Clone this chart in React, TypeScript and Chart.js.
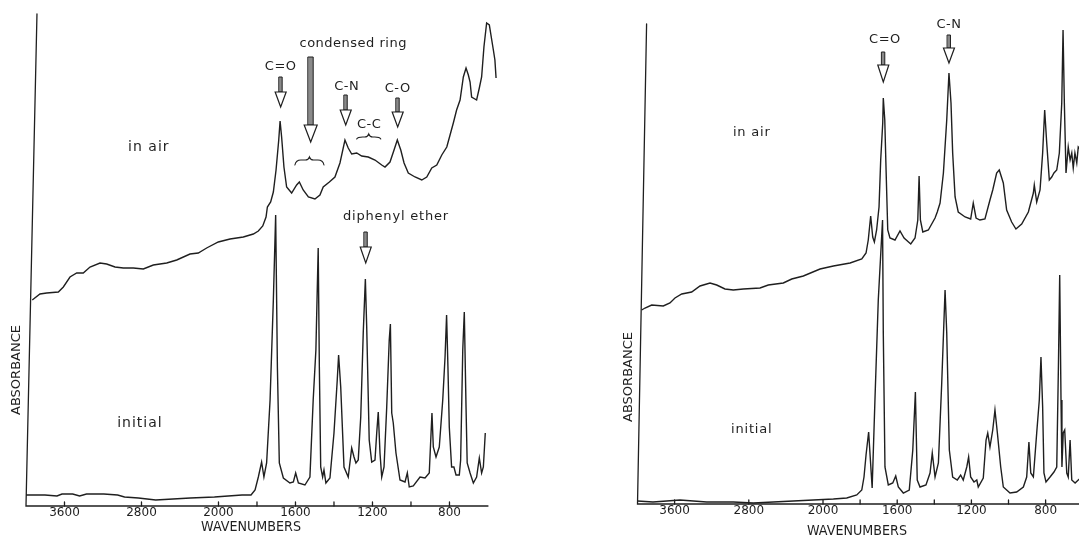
import React, { useEffect, useRef } from "react";
import { Chart, registerables } from "chart.js";

Chart.register(...registerables);

const INK = "#1f1f1f";
const FONT = '"DejaVu Sans", "Liberation Sans", sans-serif';

// Wavenumber axis: 4000-2000 cm-1 is compressed 2:1 relative to 2000-600 cm-1
const toU = (w: number) => (w >= 2000 ? (4000 - w) / 2 : 3000 - w);

const TICK_WAVENUMBERS = [3600, 2800, 2000, 1800, 1600, 1400, 1200, 1000, 800];
const TICK_LABELS = ["3600", "2800", "2000", "", "1600", "", "1200", "", "800"];

// ---------- Left panel ----------
const LEFT_AIR_WN = [3935, 3855, 3785, 3664, 3612, 3543, 3473, 3405, 3335, 3231, 3162, 3075, 2989, 2885, 2781, 2677, 2538, 2434, 2296, 2210, 2123, 2002, 1940, 1871, 1819, 1793, 1770, 1753, 1746, 1729, 1715, 1701, 1687, 1680, 1672, 1660, 1646, 1620, 1594, 1580, 1560, 1533, 1499, 1473, 1456, 1424, 1395, 1369, 1343, 1326, 1308, 1282, 1256, 1222, 1187, 1152, 1135, 1109, 1088, 1071, 1053, 1036, 1014, 979, 944, 918, 892, 866, 840, 814, 797, 780, 763, 745, 728, 714, 702, 693, 685, 659, 645, 633, 621, 607, 593, 572, 564, 558];
const LEFT_AIR_ABS = [206, 212, 213, 214, 219, 229, 233, 233, 239, 243, 242, 239, 238, 238, 237, 241, 243, 246, 252, 253, 258, 264, 267, 269, 272, 275, 280, 289, 299, 304, 314, 336, 366, 385, 369, 339, 319, 313, 321, 324, 316, 309, 307, 311, 319, 324, 329, 343, 366, 358, 352, 353, 350, 349, 346, 341, 339, 344, 356, 366, 356, 343, 333, 329, 326, 329, 338, 341, 351, 359, 371, 383, 396, 406, 429, 438, 431, 424, 409, 406, 418, 429, 459, 483, 481, 456, 446, 428];

const LEFT_INIT_WN = [4000, 3803, 3678, 3626, 3515, 3443, 3371, 3192, 3048, 2976, 2832, 2652, 2473, 2293, 2042, 1878, 1831, 1810, 1793, 1776, 1764, 1750, 1732, 1715, 1703, 1694, 1684, 1663, 1629, 1611, 1599, 1585, 1551, 1525, 1508, 1494, 1482, 1476, 1469, 1459, 1452, 1442, 1421, 1400, 1383, 1376, 1365, 1348, 1326, 1308, 1296, 1286, 1274, 1261, 1248, 1237, 1230, 1217, 1204, 1187, 1178, 1170, 1161, 1152, 1140, 1126, 1113, 1107, 1100, 1092, 1078, 1057, 1031, 1019, 1009, 988, 953, 927, 905, 891, 884, 870, 853, 835, 823, 815, 808, 801, 789, 777, 766, 749, 742, 731, 723, 714, 708, 693, 676, 659, 645, 633, 624, 614];
const LEFT_INIT_ABS = [11, 11, 10, 12, 12, 10, 12, 12, 11, 9, 8, 6, 7, 8, 9, 11, 11, 16, 29, 44, 29, 43, 106, 206, 291, 139, 43, 28, 23, 24, 33, 23, 21, 29, 106, 156, 258, 139, 39, 29, 36, 23, 28, 73, 126, 151, 119, 39, 29, 58, 49, 43, 46, 89, 173, 227, 179, 66, 44, 46, 73, 94, 53, 29, 39, 99, 166, 182, 93, 83, 53, 26, 24, 33, 19, 20, 29, 28, 33, 93, 59, 49, 59, 106, 149, 191, 139, 79, 39, 39, 31, 31, 46, 156, 194, 99, 43, 33, 23, 29, 48, 33, 39, 73];

// ---------- Right panel ----------
const RIGHT_AIR_WN = [3955, 3919, 3847, 3722, 3650, 3596, 3523, 3416, 3326, 3218, 3146, 3057, 2967, 2859, 2679, 2590, 2428, 2337, 2212, 2032, 1944, 1854, 1791, 1768, 1756, 1743, 1732, 1723, 1711, 1698, 1689, 1678, 1675, 1667, 1660, 1651, 1639, 1612, 1585, 1563, 1527, 1504, 1489, 1482, 1475, 1462, 1432, 1396, 1384, 1369, 1351, 1333, 1321, 1310, 1301, 1288, 1271, 1234, 1204, 1190, 1175, 1154, 1127, 1100, 1085, 1064, 1050, 1028, 1010, 983, 960, 929, 893, 866, 861, 848, 830, 816, 805, 794, 780, 767, 755, 740, 726, 713, 706, 699, 690, 678, 668, 659, 651, 642, 632, 624, 610];
const RIGHT_AIR_ABS = [194, 196, 199, 198, 201, 206, 210, 212, 218, 221, 219, 215, 214, 215, 216, 219, 221, 225, 228, 235, 238, 241, 245, 251, 264, 288, 267, 262, 274, 297, 344, 381, 406, 384, 334, 274, 266, 264, 273, 266, 260, 266, 284, 328, 284, 272, 274, 286, 292, 301, 331, 384, 431, 401, 351, 307, 292, 287, 285, 301, 286, 284, 285, 304, 314, 331, 334, 321, 294, 282, 275, 280, 292, 311, 319, 302, 314, 351, 394, 361, 324, 327, 331, 334, 351, 401, 474, 401, 331, 357, 344, 351, 336, 351, 341, 357, 354];

const RIGHT_INIT_WN = [4000, 3833, 3685, 3542, 3398, 3254, 2967, 2751, 2536, 2320, 2105, 1944, 1872, 1818, 1791, 1779, 1768, 1754, 1735, 1720, 1702, 1679, 1675, 1666, 1648, 1624, 1608, 1594, 1567, 1535, 1516, 1502, 1492, 1477, 1445, 1423, 1411, 1396, 1378, 1360, 1342, 1333, 1319, 1301, 1276, 1258, 1244, 1225, 1215, 1204, 1186, 1171, 1163, 1136, 1121, 1112, 1100, 1085, 1073, 1060, 1042, 1028, 1010, 992, 956, 920, 902, 890, 880, 866, 848, 834, 825, 816, 809, 798, 776, 755, 740, 731, 724, 717, 712, 705, 697, 686, 678, 668, 659, 641, 624, 610];
const RIGHT_INIT_ABS = [3, 2, 3, 4, 3, 2, 2, 1, 2, 3, 4, 5, 6, 9, 14, 27, 49, 72, 16, 104, 204, 284, 171, 37, 19, 21, 28, 17, 11, 14, 54, 112, 24, 17, 19, 31, 51, 27, 41, 121, 214, 171, 54, 27, 24, 29, 24, 37, 47, 27, 22, 24, 17, 26, 64, 71, 57, 74, 94, 71, 37, 17, 14, 11, 12, 17, 27, 62, 31, 27, 71, 104, 147, 97, 31, 22, 27, 32, 37, 137, 229, 104, 37, 71, 74, 31, 27, 64, 24, 21, 24, 26];

type Label = { text: string; w: number; v: number; size: number; spacing: number; fit?: number; rotate?: boolean };
type Arrow = { w: number; top: number; neck: number; tip: number; shaft: number; head: number };
type Brace = { w1: number; w2: number; v: number; peak: number };

const LEFT_LABELS: Label[] = [
  { text: "in air", w: 2724, v: 359, size: 14, spacing: 1 },
  { text: "initial", w: 2816, v: 83, size: 14, spacing: 1 },
  { text: "condensed ring", w: 1300, v: 462, size: 13, spacing: 0.5 },
  { text: "C=O", w: 1677, v: 439, size: 13, spacing: 0.5 },
  { text: "C-N", w: 1334, v: 419, size: 13, spacing: 0.5 },
  { text: "C-C", w: 1217, v: 381, size: 13, spacing: 0.5 },
  { text: "C-O", w: 1069, v: 417, size: 13, spacing: 0.5 },
  { text: "diphenyl ether", w: 1078, v: 289, size: 13, spacing: 0.8 },
  { text: "ABSORBANCE", w: 4098, v: 136, size: 13, spacing: 0, fit: 90, rotate: true },
  { text: "WAVENUMBERS", w: 1831, v: -21.5, size: 14, spacing: 0, fit: 100 },
];
const LEFT_ARROWS: Arrow[] = [
  { w: 1677, top: 429, neck: 414, tip: 399, shaft: 3, head: 11 },
  { w: 1521, top: 449, neck: 381, tip: 364, shaft: 5, head: 13 },
  { w: 1339, top: 411, neck: 396, tip: 381, shaft: 3, head: 11 },
  { w: 1069, top: 408, neck: 394, tip: 379, shaft: 3, head: 11 },
  { w: 1235, top: 274, neck: 259, tip: 243, shaft: 3, head: 11 },
];
const LEFT_BRACES: Brace[] = [
  { w1: 1603, w2: 1452, v: 341, peak: 349 },
  { w1: 1282, w2: 1157, v: 367, peak: 372 },
];

const RIGHT_LABELS: Label[] = [
  { text: "in air", w: 2768, v: 371, size: 13, spacing: 0.8 },
  { text: "initial", w: 2768, v: 74, size: 13, spacing: 0.8 },
  { text: "C=O", w: 1666, v: 464, size: 13, spacing: 0.5 },
  { text: "C-N", w: 1321, v: 479, size: 13, spacing: 0.5 },
  { text: "ABSORBANCE", w: 4100, v: 127, size: 13, spacing: 0, fit: 90, rotate: true },
  { text: "WAVENUMBERS", w: 1817, v: -27, size: 14, spacing: 0, fit: 100 },
];
const RIGHT_ARROWS: Arrow[] = [
  { w: 1675, top: 452, neck: 439, tip: 422, shaft: 3, head: 11 },
  { w: 1321, top: 469, neck: 456, tip: 441, shaft: 3, head: 11 },
];

type PanelCfg = {
  airWn: number[]; airAbs: number[]; initWn: number[]; initAbs: number[];
  yMax: number; uMax: number; width: number; left: number;
  padding: { left: number; right: number; top: number; bottom: number };
  axisTopW: number; axisEndW: number;
  labels: Label[]; arrows: Arrow[]; braces: Brace[];
};

const PANELS: PanelCfg[] = [
  {
    airWn: LEFT_AIR_WN, airAbs: LEFT_AIR_ABS, initWn: LEFT_INIT_WN, initAbs: LEFT_INIT_ABS,
    yMax: 492, uMax: 2450, width: 540, left: 0,
    padding: { left: 26, right: 42.4, top: 14, bottom: 15.6 },
    axisTopW: 3886, axisEndW: 600,
    labels: LEFT_LABELS, arrows: LEFT_ARROWS, braces: LEFT_BRACES,
  },
  {
    airWn: RIGHT_AIR_WN, airAbs: RIGHT_AIR_ABS, initWn: RIGHT_INIT_WN, initAbs: RIGHT_INIT_ABS,
    yMax: 480, uMax: 2380, width: 539, left: 540,
    padding: { left: 97.5, right: 0, top: 24, bottom: 17.6 },
    axisTopW: 3902, axisEndW: 620,
    labels: RIGHT_LABELS, arrows: RIGHT_ARROWS, braces: [],
  },
];

function drawLabel(ctx: CanvasRenderingContext2D, l: Label, x: number, y: number) {
  ctx.save();
  ctx.translate(x, y);
  if (l.rotate) ctx.rotate(-Math.PI / 2);
  ctx.font = `${l.size}px ${FONT}`;
  (ctx as any).letterSpacing = `${l.spacing}px`;
  const w = ctx.measureText(l.text).width;
  if (l.fit) ctx.scale(l.fit / w, 1);
  ctx.fillStyle = INK;
  ctx.textAlign = "center";
  ctx.textBaseline = "middle";
  ctx.fillText(l.text, 0, 0);
  ctx.restore();
}

function makeDecor(cfg: PanelCfg) {
  return {
    id: "decor",
    afterDraw(chart: any) {
      const ctx: CanvasRenderingContext2D = chart.ctx;
      const xs = chart.scales.x;
      const ys = chart.scales.y;
      const X = (w: number) => xs.getPixelForValue(toU(w));
      const Y = (v: number) => ys.getPixelForValue(v);
      ctx.save();
      ctx.strokeStyle = INK;
      ctx.lineWidth = 1.3;
      ctx.lineCap = "round";
      // axes
      ctx.beginPath();
      ctx.moveTo(X(cfg.axisTopW), Y(cfg.yMax));
      ctx.lineTo(X(4000), Y(0));
      ctx.lineTo(X(cfg.axisEndW), Y(0));
      ctx.stroke();
      // tick marks
      ctx.beginPath();
      xs.ticks.forEach((_t: any, i: number) => {
        const px = xs.getPixelForTick(i);
        ctx.moveTo(px, Y(0));
        ctx.lineTo(px, Y(0) - 4);
      });
      ctx.stroke();
      // arrows
      cfg.arrows.forEach((a) => {
        const x = X(a.w);
        const yt = Y(a.top), yn = Y(a.neck), yp = Y(a.tip);
        ctx.fillStyle = "#8a8a8a";
        ctx.lineWidth = 1;
        ctx.beginPath();
        ctx.rect(x - a.shaft / 2, yt, a.shaft, yn - yt);
        ctx.fill();
        ctx.stroke();
        ctx.fillStyle = "#ffffff";
        ctx.lineWidth = 1.2;
        ctx.beginPath();
        ctx.moveTo(x - a.head / 2, yn);
        ctx.lineTo(x + a.head / 2, yn);
        ctx.lineTo(x, yp);
        ctx.closePath();
        ctx.fill();
        ctx.stroke();
      });
      // braces
      ctx.lineWidth = 1.1;
      cfg.braces.forEach((b) => {
        const x1 = X(b.w1), x2 = X(b.w2), xm = (x1 + x2) / 2;
        const ye = Y(b.v), yc = Y(b.peak), y0 = yc + 3;
        ctx.beginPath();
        ctx.moveTo(x1, ye);
        ctx.quadraticCurveTo(x1 + 1, y0, x1 + 6, y0);
        ctx.lineTo(xm - 4, y0);
        ctx.quadraticCurveTo(xm - 1, y0, xm, yc);
        ctx.quadraticCurveTo(xm + 1, y0, xm + 4, y0);
        ctx.lineTo(x2 - 6, y0);
        ctx.quadraticCurveTo(x2 - 1, y0, x2, ye);
        ctx.stroke();
      });
      // labels
      cfg.labels.forEach((l) => drawLabel(ctx, l, X(l.w), Y(l.v)));
      ctx.restore();
    },
  };
}

function Panel({ cfg }: { cfg: PanelCfg }) {
  const ref = useRef<HTMLCanvasElement | null>(null);
  useEffect(() => {
    if (!ref.current) return;
    const toPts = (wn: number[], ab: number[]) => wn.map((w, i) => ({ x: toU(w), y: ab[i] }));
    const chart = new Chart(ref.current, {
      type: "line",
      data: {
        datasets: [
          { label: "in air", data: toPts(cfg.airWn, cfg.airAbs), borderColor: INK, borderWidth: 1.4, pointRadius: 0, tension: 0, fill: false },
          { label: "initial", data: toPts(cfg.initWn, cfg.initAbs), borderColor: INK, borderWidth: 1.4, pointRadius: 0, tension: 0, fill: false },
        ],
      },
      options: {
        animation: false,
        responsive: false,
        maintainAspectRatio: false,
        parsing: false,
        layout: { padding: cfg.padding },
        plugins: { legend: { display: false }, tooltip: { enabled: false }, title: { display: false } },
        scales: {
          x: {
            type: "linear",
            min: 0,
            max: cfg.uMax,
            grid: { display: false, drawTicks: false, tickLength: 0 },
            border: { display: false },
            afterBuildTicks: (axis: any) => {
              axis.ticks = TICK_WAVENUMBERS.map((w) => ({ value: toU(w) }));
            },
            ticks: {
              autoSkip: false,
              maxRotation: 0,
              padding: 0,
              color: INK,
              font: { family: FONT, size: 12 },
              callback: (_v: any, i: number) => TICK_LABELS[i],
            },
          },
          y: { type: "linear", display: false, min: 0, max: cfg.yMax },
        },
      },
      plugins: [makeDecor(cfg)],
    } as any);
    return () => chart.destroy();
  }, [cfg]);
  return (
    <canvas
      ref={ref}
      width={cfg.width}
      height={536}
      style={{ position: "absolute", left: cfg.left, top: 0, width: cfg.width, height: 536 }}
    />
  );
}

export default function App() {
  return (
    <div style={{ position: "absolute", left: 0, top: 0, width: 1079, height: 536, overflow: "hidden", background: "#ffffff" }}>
      {PANELS.map((p, i) => (
        <Panel key={i} cfg={p} />
      ))}
    </div>
  );
}
